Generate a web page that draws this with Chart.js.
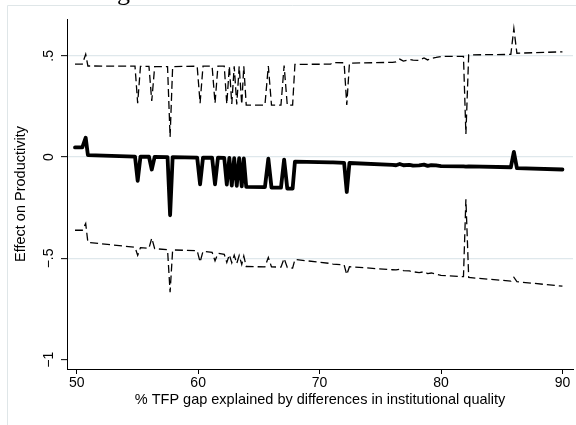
<!DOCTYPE html>
<html>
<head>
<meta charset="utf-8">
<script src="https://cdn.jsdelivr.net/npm/chart.js@4"></script>
<style>
html, body { margin: 0; padding: 0; background: #fff; }
canvas { display: block; }
</style>
</head>
<body>
<canvas id="effectChart" width="576" height="425"></canvas>
<script>
// % TFP gap explained (x) and the estimated effect with its confidence bounds
var gapPct = [49.86, 50.46, 50.74, 50.92, 54.80, 55.02, 55.25, 55.95, 56.18, 56.42, 57.48, 57.69, 57.90,
    59.92, 60.16, 60.40, 61.15, 61.39, 61.63, 62.15, 62.36, 62.57, 62.77, 62.97, 63.18, 63.38, 63.59, 63.76,
    63.96, 65.50, 65.78, 66.04, 66.82, 67.08, 67.34, 67.78, 67.97, 70.90, 71.10, 72.02, 72.24, 72.46, 76.00,
    76.30, 76.60, 76.90, 77.40, 77.70, 78.20, 78.60, 78.90, 79.20, 79.60, 80.00, 81.85, 82.05, 82.28, 85.75,
    86.00, 86.25, 90.00];
var effect = [0.048, 0.048, 0.096, 0.010, 0.003, -0.117, 0.002, 0.002, -0.061, 0.001, 0.000, -0.287, 0.000,
    -0.002, -0.134, -0.002, -0.003, -0.134, -0.003, -0.004, -0.136, -0.004, -0.140, -0.005, -0.142, -0.005, -0.144, -0.006,
    -0.147, -0.148, -0.008, -0.150, -0.151, -0.012, -0.155, -0.155, -0.022, -0.026, -0.026, -0.028, -0.172, -0.029, -0.038,
    -0.040, -0.034, -0.040, -0.038, -0.042, -0.041, -0.037, -0.043, -0.039, -0.041, -0.044, -0.046, -0.047, -0.046, -0.050,
    0.026, -0.054, -0.061];
var upperCI = [0.459, 0.459, 0.508, 0.450, 0.449, 0.266, 0.448, 0.448, 0.277, 0.447, 0.447, 0.100, 0.447,
    0.449, 0.266, 0.449, 0.449, 0.266, 0.449, 0.449, 0.262, 0.449, 0.262, 0.449, 0.260, 0.449, 0.260, 0.449,
    0.257, 0.257, 0.450, 0.257, 0.257, 0.452, 0.257, 0.257, 0.458, 0.459, 0.467, 0.466, 0.257, 0.464, 0.468,
    0.470, 0.484, 0.474, 0.482, 0.479, 0.478, 0.490, 0.480, 0.488, 0.492, 0.497, 0.497, 0.114, 0.505, 0.507,
    0.635, 0.513, 0.520];
var lowerCI = [-0.361, -0.361, -0.328, -0.421, -0.445, -0.485, -0.447, -0.450, -0.400, -0.452, -0.457, -0.667, -0.458,
    -0.462, -0.518, -0.465, -0.470, -0.512, -0.475, -0.480, -0.520, -0.482, -0.522, -0.484, -0.525, -0.486, -0.530, -0.488,
    -0.540, -0.542, -0.495, -0.542, -0.543, -0.500, -0.545, -0.548, -0.505, -0.525, -0.528, -0.532, -0.580, -0.541, -0.556,
    -0.557, -0.553, -0.560, -0.562, -0.566, -0.570, -0.566, -0.575, -0.572, -0.578, -0.584, -0.590, -0.208, -0.594, -0.612,
    -0.593, -0.615, -0.637];

var xTicks = [50, 60, 70, 80, 90];
var yTicks = [-1, -0.5, 0, 0.5];
var yTickLabels = ['\u22121', '\u2212.5', '0', '.5'];

function toPoints(ys) {
    return gapPct.map(function(x, i) { return {x: x, y: ys[i]}; });
}

var sansFont = 'Liberation Sans, Arial, Helvetica, sans-serif';

// light frame of the graph region and the cut-off heading above it
var framePlugin = {
    id: 'frame',
    beforeDraw: function(chart) {
        var c = chart.ctx;
        c.save();
        c.fillStyle = '#fff';
        c.fillRect(0, 0, chart.width, chart.height);
        c.strokeStyle = '#dfe6e8';
        c.lineWidth = 1;
        c.beginPath();
        c.moveTo(7.5, chart.height + 2);
        c.lineTo(7.5, 5.5);
        c.lineTo(chart.width + 2, 5.5);
        c.stroke();
        c.fillStyle = '#000';
        c.font = '26px "Liberation Serif", "Times New Roman", serif';
        c.textAlign = 'right';
        c.textBaseline = 'alphabetic';
        c.fillText('ing', 130, 0);
        c.restore();
    }
};

var ctx = document.getElementById('effectChart').getContext('2d');
var chart = new Chart(ctx, {
    type: 'line',
    data: {
        datasets: [{
            label: 'upper',
            data: toPoints(upperCI),
            borderColor: '#000',
            borderWidth: 1.3,
            borderDash: [8, 4],
            pointRadius: 0,
            tension: 0,
            fill: false
        }, {
            label: 'lower',
            data: toPoints(lowerCI),
            borderColor: '#000',
            borderWidth: 1.3,
            borderDash: [8, 4],
            pointRadius: 0,
            tension: 0,
            fill: false
        }, {
            label: 'effect',
            data: toPoints(effect),
            borderColor: '#000',
            borderWidth: 3.8,
            borderJoinStyle: 'round',
            borderCapStyle: 'round',
            pointRadius: 0,
            tension: 0,
            fill: false
        }]
    },
    options: {
        responsive: false,
        animation: false,
        devicePixelRatio: 1,
        layout: { padding: { top: 19, right: 3, left: 0, bottom: 0 } },
        plugins: {
            legend: { display: false },
            tooltip: { enabled: false }
        },
        scales: {
            x: {
                type: 'linear',
                min: 49.2,
                max: 90.87,
                afterBuildTicks: function(s) { s.ticks = xTicks.map(function(v) { return {value: v}; }); },
                afterFit: function(s) { s.height = 56; },
                ticks: {
                    color: '#000',
                    font: { family: sansFont, size: 14 },
                    padding: 1,
                    maxRotation: 0,
                    autoSkip: false
                },
                grid: {
                    drawOnChartArea: false,
                    tickLength: 5,
                    tickColor: '#000',
                    tickWidth: 1
                },
                border: { color: '#000', width: 1 },
                title: {
                    display: true,
                    text: '% TFP gap explained by differences in institutional quality',
                    color: '#000',
                    font: { family: sansFont, size: 14.5 },
                    padding: { top: 0, bottom: 16.3 }
                }
            },
            y: {
                type: 'linear',
                min: -1.046,
                max: 0.682,
                afterBuildTicks: function(s) { s.ticks = yTicks.map(function(v) { return {value: v}; }); },
                afterFit: function(s) { s.width = 67; },
                ticks: {
                    color: '#000',
                    font: { family: sansFont, size: 14 },
                    minRotation: 90,
                    maxRotation: 90,
                    crossAlign: 'center',
                    padding: 2,
                    autoSkip: false,
                    callback: function(v) { return yTickLabels[yTicks.indexOf(v)]; }
                },
                grid: {
                    color: function(c) { return c.tick && c.tick.value === -1 ? 'rgba(0,0,0,0)' : '#dfe8ec'; },
                    lineWidth: 1.3,
                    tickLength: 6,
                    tickColor: '#000',
                    tickWidth: 1
                },
                border: { color: '#000', width: 1 },
                title: {
                    display: true,
                    text: 'Effect on Productivity',
                    color: '#000',
                    font: { family: sansFont, size: 14.5 },
                    padding: { top: 11.8, bottom: 0 }
                }
            }
        }
    },
    plugins: [framePlugin]
});
</script>
</body>
</html>
